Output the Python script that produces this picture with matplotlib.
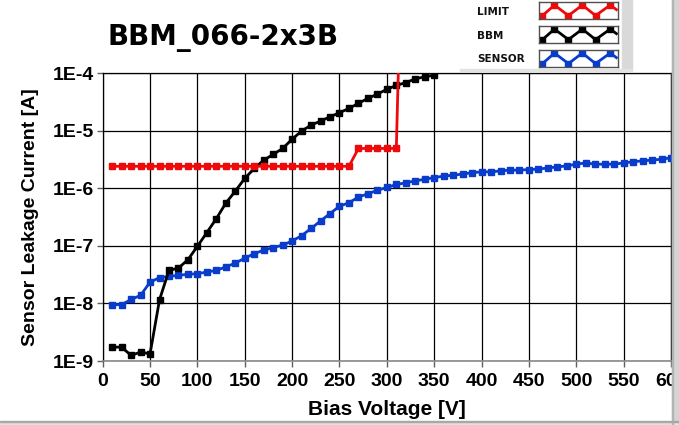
import matplotlib
matplotlib.use("Agg")
import matplotlib.pyplot as plt
from matplotlib.patches import Rectangle

W, H = 679, 425

# ---- data ----
limit_v = [10, 20, 30, 40, 50, 60, 70, 80, 90, 100, 110, 120, 130, 140, 150, 160,
           170, 180, 190, 200, 210, 220, 230, 240, 250, 260, 270, 280, 290, 300, 310, 320]
limit_i = [2.4e-6, 2.4e-6, 2.4e-6, 2.4e-6, 2.4e-6, 2.4e-6, 2.4e-6, 2.4e-6, 2.4e-6, 2.4e-6,
           2.4e-6, 2.4e-6, 2.4e-6, 2.4e-6, 2.4e-6, 2.4e-6, 2.4e-6, 2.4e-6, 2.4e-6, 2.4e-6,
           2.4e-6, 2.4e-6, 2.4e-6, 2.4e-6, 2.4e-6, 2.4e-6, 4.9e-6, 4.9e-6, 4.9e-6, 4.9e-6,
           4.9e-6, 1e1]

bbm_v = [10, 20, 30, 40, 50, 60, 70, 80, 90, 100, 110, 120, 130, 140, 150, 160, 170, 180,
         190, 200, 210, 220, 230, 240, 250, 260, 270, 280, 290, 300, 310, 320, 330, 340, 350]
bbm_i = [1.74e-9, 1.74e-9, 1.25e-9, 1.43e-9, 1.33e-9, 1.16e-8, 3.75e-8, 4.1e-8, 5.75e-8,
         9.8e-8, 1.7e-7, 2.97e-7, 5.5e-7, 8.9e-7, 1.48e-6, 2.2e-6, 3.07e-6, 3.86e-6,
         4.9e-6, 7.1e-6, 9.8e-6, 1.25e-5, 1.46e-5, 1.74e-5, 2.04e-5, 2.43e-5, 2.97e-5,
         3.63e-5, 4.3e-5, 5.2e-5, 6.1e-5, 6.8e-5, 7.9e-5, 8.6e-5, 9.2e-5]

sensor_v = [10, 20, 30, 40, 50, 60, 70, 80, 90, 100, 110, 120, 130, 140, 150, 160, 170, 180,
            190, 200, 210, 220, 230, 240, 250, 260, 270, 280, 290, 300, 310, 320, 330, 340,
            350, 360, 370, 380, 390, 400, 410, 420, 430, 440, 450, 460, 470, 480, 490, 500,
            510, 520, 530, 540, 550, 560, 570, 580, 590, 600]
sensor_i = [9.5e-9, 9.5e-9, 1.17e-8, 1.38e-8, 2.34e-8, 2.8e-8, 2.95e-8, 3.07e-8, 3.2e-8,
            3.28e-8, 3.5e-8, 3.75e-8, 4.3e-8, 5.0e-8, 6.1e-8, 7.3e-8, 8.4e-8, 9.3e-8,
            1.03e-7, 1.21e-7, 1.5e-7, 2.0e-7, 2.7e-7, 3.63e-7, 4.86e-7, 5.6e-7, 7.0e-7,
            8.0e-7, 9.2e-7, 1.03e-6, 1.16e-6, 1.24e-6, 1.34e-6, 1.43e-6, 1.53e-6, 1.62e-6,
            1.68e-6, 1.76e-6, 1.86e-6, 1.92e-6, 1.92e-6, 2.0e-6, 2.06e-6, 2.06e-6, 2.11e-6,
            2.14e-6, 2.25e-6, 2.34e-6, 2.44e-6, 2.61e-6, 2.75e-6, 2.61e-6, 2.61e-6, 2.61e-6,
            2.75e-6, 2.87e-6, 2.99e-6, 3.07e-6, 3.19e-6, 3.37e-6]

x_ticks = [0, 50, 100, 150, 200, 250, 300, 350, 400, 450, 500, 550, 600]
y_ticks = [1e-9, 1e-8, 1e-7, 1e-6, 1e-5, 1e-4]
y_tick_labels = ["1E-9", "1E-8", "1E-7", "1E-6", "1E-5", "1E-4"]

series_names = ["LIMIT", "BBM", "SENSOR"]
series_colors = ["#ee0a0a", "#000000", "#0a3ccc"]

tick_font = {"family": "Liberation Sans", "weight": "bold", "size": 14}

fig = plt.figure(figsize=(W / 100, H / 100), dpi=100)
fig.patch.set_facecolor("white")

ax = fig.add_axes([102.7 / W, 1 - 361 / H, (671 - 102.7) / W, 288 / H])
ax.set_yscale("log")
ax.set_xlim(0, 600)
ax.set_ylim(1e-9, 1e-4)
ax.set_xticks(x_ticks)
ax.set_yticks(y_ticks)
ax.set_yticklabels(y_tick_labels)
ax.yaxis.set_minor_locator(matplotlib.ticker.NullLocator())
ax.set_axisbelow(True)
ax.grid(True, color="black", lw=0.9)

for lab in ax.get_xticklabels() + ax.get_yticklabels():
    lab.set_fontproperties(matplotlib.font_manager.FontProperties(**tick_font))
ax.tick_params(axis="both", direction="out", length=4.5, width=1, color="#606060")
ax.tick_params(axis="y", pad=2)
ax.tick_params(axis="x", pad=4)

for s in ["top", "right", "left"]:
    ax.spines[s].set_color("black")
    ax.spines[s].set_linewidth(0.9)
ax.spines["bottom"].set_color("#8a8a8a")
ax.spines["bottom"].set_linewidth(1.2)

mk = dict(marker="s", markersize=4.8, lw=2.0)
ax.plot(sensor_v, sensor_i, color=series_colors[2], zorder=3, **mk)
ax.plot(bbm_v, bbm_i, color=series_colors[1], zorder=4, **mk)
ax.plot(limit_v, limit_i, color=series_colors[0], zorder=5, **mk)

ax.set_xlabel("Bias Voltage [V]", family="Liberation Sans", weight="bold", size=15,
              va="baseline")
ax.xaxis.set_label_coords(0.5, (361 - 415) / 288)
ax.set_ylabel("Sensor Leakage Current [A]", family="Liberation Sans", weight="bold",
              size=14, va="center")
ax.yaxis.set_label_coords((31 - 102.7) / 568.3, 0.5)

fig.text(107 / W, 1 - 45.5 / H, "BBM_066-2x3B", family="DejaVu Sans", weight="bold",
         size=20, va="baseline", ha="left")

# legend panel
fig.patches.append(Rectangle((622 / W, 1 - 70 / H), 10 / W, 70 / H, transform=fig.transFigure,
                             color="#d9d9d9", zorder=1))
fig.patches.append(Rectangle((460 / W, 1 - 71 / H), 172 / W, 2 / H, transform=fig.transFigure,
                             color="#e2e2e2", zorder=1))
label_y = [12, 36, 59]
box_y = [2, 26, 50]
zig_x = [0.04, 0.2, 0.38, 0.56, 0.73, 0.92, 1.0]
zig_y = [0.18, 0.82, 0.2, 0.82, 0.2, 0.82, 0.55]
for name, col, ly, by in zip(series_names, series_colors, label_y, box_y):
    fig.text(477 / W, 1 - ly / H, name, family="DejaVu Sans", weight="bold", size=7.5,
             va="center", ha="left", color="#111111")
    lax = fig.add_axes([539 / W, 1 - (by + 17) / H, 79 / W, 17 / H])
    lax.set_xlim(0, 1.02)
    lax.set_ylim(0, 1)
    lax.set_xticks([])
    lax.set_yticks([])
    for s in lax.spines.values():
        s.set_color("#505050")
        s.set_linewidth(1.0)
    lax.plot(zig_x, zig_y, color=col, lw=2.0, clip_on=True)
    lax.plot(zig_x[:-1], zig_y[:-1], color=col, ls="none", marker="s", markersize=4.2)

# grey frame on the right and bottom
fig.patches.append(Rectangle((672 / W, 0), 7 / W, 1, transform=fig.transFigure,
                             color="#d4d4d4", zorder=10))
fig.patches.append(Rectangle((672 / W, 0), 1.2 / W, 1, transform=fig.transFigure,
                             color="#b4b4b4", zorder=11))
fig.patches.append(Rectangle((0, 0), 1, 3 / H, transform=fig.transFigure,
                             color="#e0e0e0", zorder=10))
fig.patches.append(Rectangle((0, 3 / H), 1, 1.2 / H, transform=fig.transFigure,
                             color="#a8a8a8", zorder=11))

fig.savefig("out.png", dpi=100)
